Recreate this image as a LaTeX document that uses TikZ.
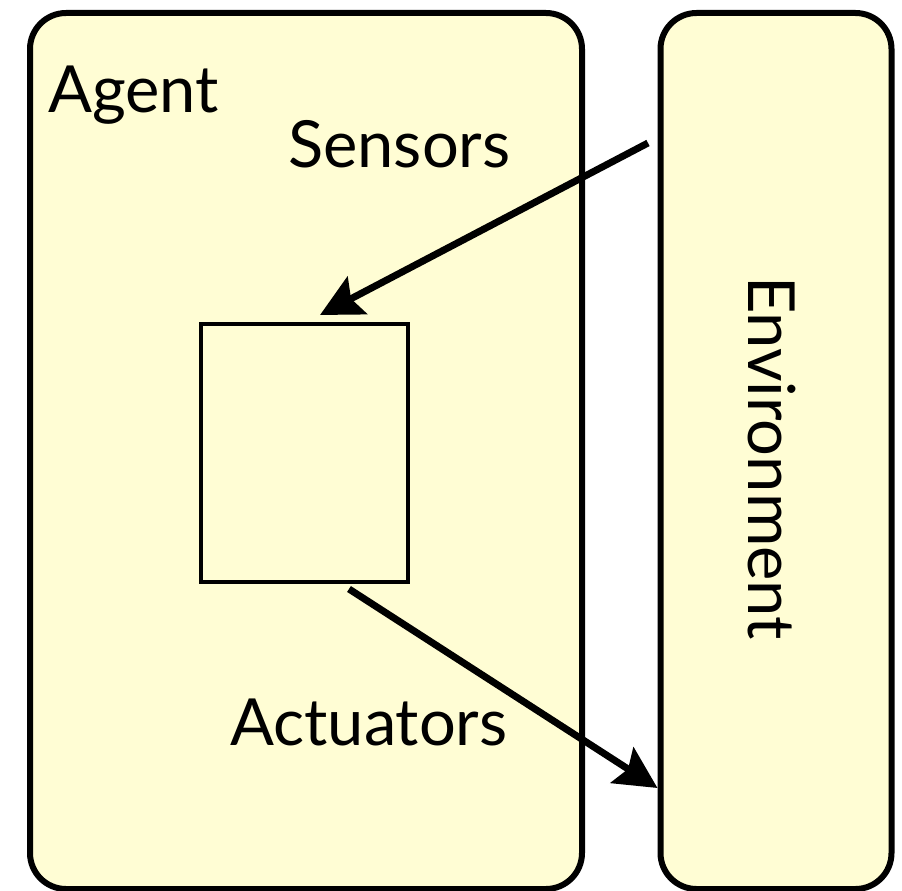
\documentclass[tikz,border=0pt]{standalone}
\usepackage{fontspec}
\setmainfont{Lato}
\usetikzlibrary{arrows.meta}
\definecolor{paleyellow}{RGB}{255,253,212}
\begin{document}
\begin{tikzpicture}[x=1pt,y=-1pt,
  panel/.style={draw=black,line width=6pt,fill=paleyellow,rounded corners=36pt,inner sep=0pt},
  core/.style={draw=black,line width=4.5pt,fill=paleyellow,inner sep=0pt},
  label/.style={font=\fontsize{65}{72}\selectfont,inner sep=0pt},
  flow/.style={line width=7pt,-{Stealth[length=42pt,width=42pt,inset=7pt]}}]
  \useasboundingbox (0,0) rectangle (902,891);
  % agent and environment panels
  \node[panel,minimum width=552pt,minimum height=876pt] (agent) at (306,451) {};
  \node[panel,minimum width=231pt,minimum height=876pt] (env) at (776,451) {};
  % the agent program box
  \node[core,minimum width=207pt,minimum height=258pt] (prog) at (304.5,453) {};
  % labels
  \node[label,anchor=base west] (agentlbl) at (48,112) {Agent};
  \node[label,anchor=base west] (senslbl) at (288,167) {Sensors};
  \node[label,anchor=base west] (actlbl) at (230,745) {Actuators};
  \node[label,rotate=-90] (envlbl) at (772,458) {Environment};
  % percepts in, actions out
  \coordinate (percept) at (648,143);
  \coordinate (progtop) at (320,315);
  \coordinate (progbot) at (349,589);
  \coordinate (envin) at (env.west |- 0,788);
  \draw[flow] (percept) -- (progtop);
  \draw[flow] (progbot) -- (envin);
\end{tikzpicture}
\end{document}
